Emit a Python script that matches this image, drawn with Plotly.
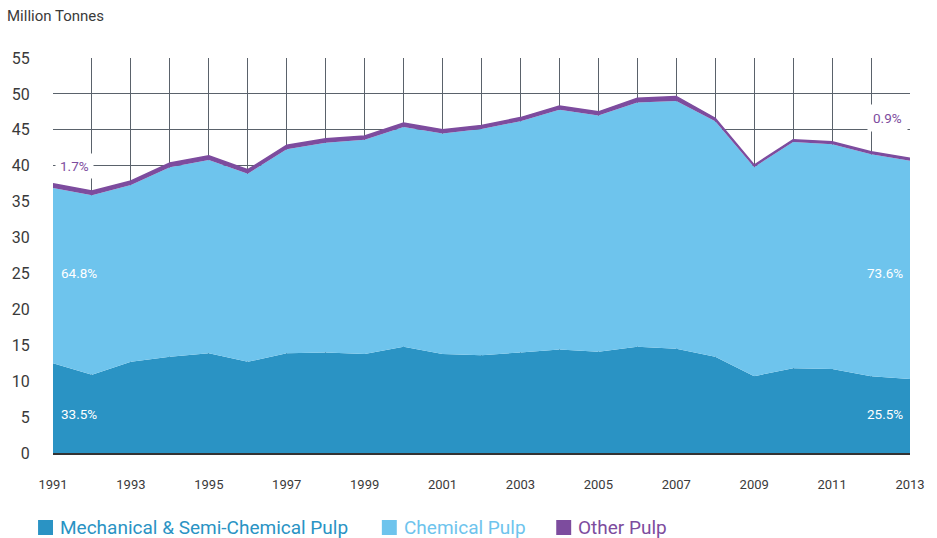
import plotly.graph_objects as go

# Pulp production, million tonnes
years = list(range(1991, 2014))
mechanical = [12.5, 10.9, 12.7, 13.4, 13.9, 12.7, 13.9, 14.0, 13.8, 14.8, 13.8, 13.6,
              14.0, 14.4, 14.1, 14.8, 14.5, 13.4, 10.7, 11.8, 11.7, 10.7, 10.3]
chemical = [24.4, 25.0, 24.6, 26.4, 26.9, 26.2, 28.4, 29.2, 29.8, 30.6, 30.7, 31.5,
            32.2, 33.4, 32.9, 34.0, 34.5, 32.8, 29.1, 31.5, 31.3, 30.9, 30.4]
other = [0.6, 0.58, 0.58, 0.58, 0.58, 0.55, 0.55, 0.55, 0.55, 0.55, 0.5, 0.5,
         0.5, 0.5, 0.5, 0.6, 0.65, 0.4, 0.3, 0.3, 0.35, 0.35, 0.35]

series_names = ['Mechanical & Semi-Chemical Pulp', 'Chemical Pulp', 'Other Pulp']
share_1991 = ['33.5%', '64.8%', '1.7%']
share_2013 = ['25.5%', '73.6%', '0.9%']
tick_years = [str(y) if (y - 1991) % 2 == 0 else '' for y in years]

C_MECH = '#2a93c4'
C_CHEM = '#6ec4ed'
C_OTHER = '#7d4c9e'
GRID = '#5a626b'
TXT = '#3a3a3a'
FONT = 'Roboto, Arial, sans-serif'

W, H = 937, 538
ML, MR, MT, MB = 52, 25, 58, 85

def px_x(p):
    return (p - ML) / (W - ML - MR)

def px_y(p):
    return (H - MB - p) / (H - MT - MB)

fig = go.Figure()
for vals, col, name, lw in [(mechanical, C_MECH, series_names[0], 0),
                            (chemical, C_CHEM, series_names[1], 0),
                            (other, C_OTHER, series_names[2], 1.5)]:
    fig.add_trace(go.Scatter(
        x=years, y=vals, name=name, mode='lines', stackgroup='pulp',
        fillcolor=col, line=dict(color=col, width=lw), hoverinfo='skip',
        showlegend=False
    ))

# labels inside the areas
ann = []
for txt, yv in [(share_1991[1], 25), (share_1991[0], 5.5)]:
    ann.append(dict(x=years[0], y=yv, text=txt, xanchor='left', xshift=6, showarrow=False,
                    font=dict(family=FONT, size=13.5, color='white')))
for txt, yv in [(share_2013[1], 25), (share_2013[0], 5.5)]:
    ann.append(dict(x=years[-1], y=yv, text=txt, xanchor='right', xshift=-5, showarrow=False,
                    font=dict(family=FONT, size=13.5, color='white')))
ann.append(dict(x=years[0], y=40, text=share_1991[2], xanchor='left', xshift=2, showarrow=False,
                bgcolor='white', borderpad=4,
                font=dict(family=FONT, size=13.5, color=C_OTHER)))
ann.append(dict(x=years[-1], y=46.7, text=share_2013[2], xanchor='right', xshift=-2, showarrow=False,
                bgcolor='white', borderpad=5,
                font=dict(family=FONT, size=13.5, color=C_OTHER)))

# custom legend
legend_items = [(37, 57, C_MECH, series_names[0]),
                (382, 402, C_CHEM, series_names[1]),
                (557, 577, C_OTHER, series_names[2])]
shapes = []
for sq, tx, col, name in legend_items:
    shapes.append(dict(type='rect', xref='paper', yref='paper',
                       x0=px_x(sq), x1=px_x(sq + 15), y0=px_y(535), y1=px_y(520),
                       fillcolor=col, line=dict(width=0)))
    ann.append(dict(xref='paper', yref='paper', x=px_x(tx), y=px_y(527.5), text=name,
                    xanchor='left', yanchor='middle', showarrow=False,
                    font=dict(family=FONT, size=19, color=col)))

fig.update_layout(
    width=W, height=H,
    margin=dict(l=ML, r=MR, t=MT, b=MB),
    paper_bgcolor='white', plot_bgcolor='white',
    title=dict(text='Million Tonnes', x=7 / W, xanchor='left', xref='container',
               y=1 - 16 / H, yanchor='middle',
               font=dict(family=FONT, size=15, color=TXT)),
    xaxis=dict(range=[1991, 2013], tickvals=years, ticktext=tick_years,
               showgrid=True, gridcolor=GRID, gridwidth=1,
               showline=True, linecolor='#333333', linewidth=2,
               ticks='outside', ticklen=18, tickcolor='rgba(0,0,0,0)',
               tickfont=dict(family=FONT, size=13, color=TXT), zeroline=False),
    yaxis=dict(range=[0, 55], dtick=5, showgrid=True, gridcolor=GRID, gridwidth=1,
               ticks='outside', ticklen=19, tickcolor='rgba(0,0,0,0)',
               tickfont=dict(family=FONT, size=16, color=TXT), zeroline=False),
    annotations=ann, shapes=shapes,
    showlegend=False
)

# drop the page's default body margin so the figure sits at the window's corner
fig.write_html("out.html", config={'displayModeBar': False},
               post_script="document.body.style.margin='0';")
